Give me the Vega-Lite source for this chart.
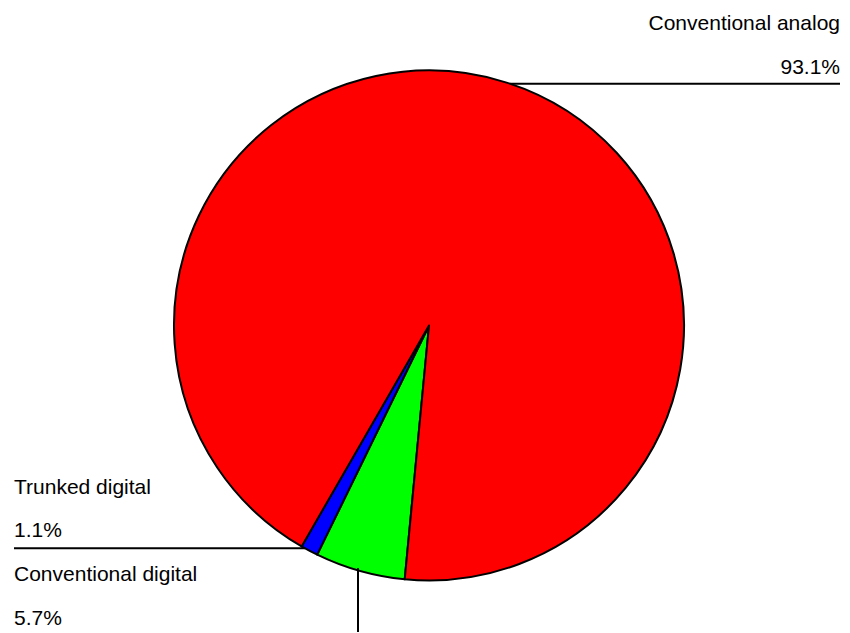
{
  "$schema": "https://vega.github.io/schema/vega-lite/v6.json",
  "width": 850,
  "height": 633,
  "padding": 0,
  "autosize": {"type": "fit", "contains": "padding"},
  "background": "white",
  "config": {"view": {"stroke": null}, "text": {"font": "Liberation Sans", "fontSize": 21, "color": "#000000"}},
  "datasets": {
    "slices": [
      {"category": "Conventional digital", "share": 0.057, "rank": 1},
      {"category": "Trunked digital", "share": 0.011, "rank": 2},
      {"category": "Conventional analog", "share": 0.931, "rank": 3}
    ]
  },
  "data": {"name": "slices"},
  "layer": [
    {
      "mark": {"type": "arc", "outerRadius": 255, "stroke": "#000000", "strokeWidth": 2, "strokeJoin": "round"},
      "encoding": {
        "x": {"datum": 0, "type": "quantitative", "scale": {"domain": [-1.6824, 1.651], "nice": false, "zero": false}, "axis": null},
        "y": {"datum": 0, "type": "quantitative", "scale": {"domain": [-1.2039, 1.2784], "nice": false, "zero": false}, "axis": null},
        "theta": {"field": "share", "type": "quantitative", "stack": true, "scale": {"domain": [0, 0.999], "range": [3.237, 9.5202]}},
        "color": {"field": "category", "type": "nominal", "legend": null,
          "scale": {"domain": ["Conventional digital", "Trunked digital", "Conventional analog"], "range": ["#00FF00", "#0000FF", "#FF0000"]}},
        "order": {"field": "rank", "type": "quantitative"}
      }
    },
    {
      "transform": [{"filter": "datum.category == 'Conventional analog'"}],
      "mark": {"type": "text", "align": "right", "baseline": "alphabetic"},
      "encoding": {
        "x": {"datum": 1.6118, "type": "quantitative"},
        "y": {"datum": 1.1608, "type": "quantitative"},
        "text": {"field": "category"}
      }
    },
    {
      "transform": [{"filter": "datum.category == 'Conventional analog'"}],
      "mark": {"type": "text", "align": "right", "baseline": "alphabetic"},
      "encoding": {
        "x": {"datum": 1.6118, "type": "quantitative"},
        "y": {"datum": 0.9882, "type": "quantitative"},
        "text": {"field": "share", "type": "quantitative", "format": ".1%"}
      }
    },
    {
      "transform": [{"filter": "datum.category == 'Conventional analog'"}],
      "mark": {"type": "rule", "color": "#000000", "strokeWidth": 2},
      "encoding": {
        "x": {"datum": 0.3176, "type": "quantitative"},
        "x2": {"datum": 1.6118},
        "y": {"datum": 0.949, "type": "quantitative"}
      }
    },
    {
      "transform": [{"filter": "datum.category == 'Trunked digital'"}],
      "mark": {"type": "text", "align": "left", "baseline": "alphabetic"},
      "encoding": {
        "x": {"datum": -1.6275, "type": "quantitative"},
        "y": {"datum": -0.6627, "type": "quantitative"},
        "text": {"field": "category"}
      }
    },
    {
      "transform": [{"filter": "datum.category == 'Trunked digital'"}],
      "mark": {"type": "text", "align": "left", "baseline": "alphabetic"},
      "encoding": {
        "x": {"datum": -1.6275, "type": "quantitative"},
        "y": {"datum": -0.8314, "type": "quantitative"},
        "text": {"field": "share", "type": "quantitative", "format": ".1%"}
      }
    },
    {
      "transform": [{"filter": "datum.category == 'Trunked digital'"}],
      "mark": {"type": "rule", "color": "#000000", "strokeWidth": 2},
      "encoding": {
        "x": {"datum": -1.6275, "type": "quantitative"},
        "x2": {"datum": -0.4863},
        "y": {"datum": -0.8745, "type": "quantitative"}
      }
    },
    {
      "transform": [{"filter": "datum.category == 'Conventional digital'"}],
      "mark": {"type": "text", "align": "left", "baseline": "alphabetic"},
      "encoding": {
        "x": {"datum": -1.6275, "type": "quantitative"},
        "y": {"datum": -1.0039, "type": "quantitative"},
        "text": {"field": "category"}
      }
    },
    {
      "transform": [{"filter": "datum.category == 'Conventional digital'"}],
      "mark": {"type": "text", "align": "left", "baseline": "alphabetic"},
      "encoding": {
        "x": {"datum": -1.6275, "type": "quantitative"},
        "y": {"datum": -1.1765, "type": "quantitative"},
        "text": {"field": "share", "type": "quantitative", "format": ".1%"}
      }
    },
    {
      "transform": [{"filter": "datum.category == 'Conventional digital'"}],
      "mark": {"type": "rule", "color": "#000000", "strokeWidth": 2},
      "encoding": {
        "x": {"datum": -0.2784, "type": "quantitative"},
        "y": {"datum": -0.9529, "type": "quantitative"},
        "y2": {"datum": -1.2039}
      }
    }
  ]
}
